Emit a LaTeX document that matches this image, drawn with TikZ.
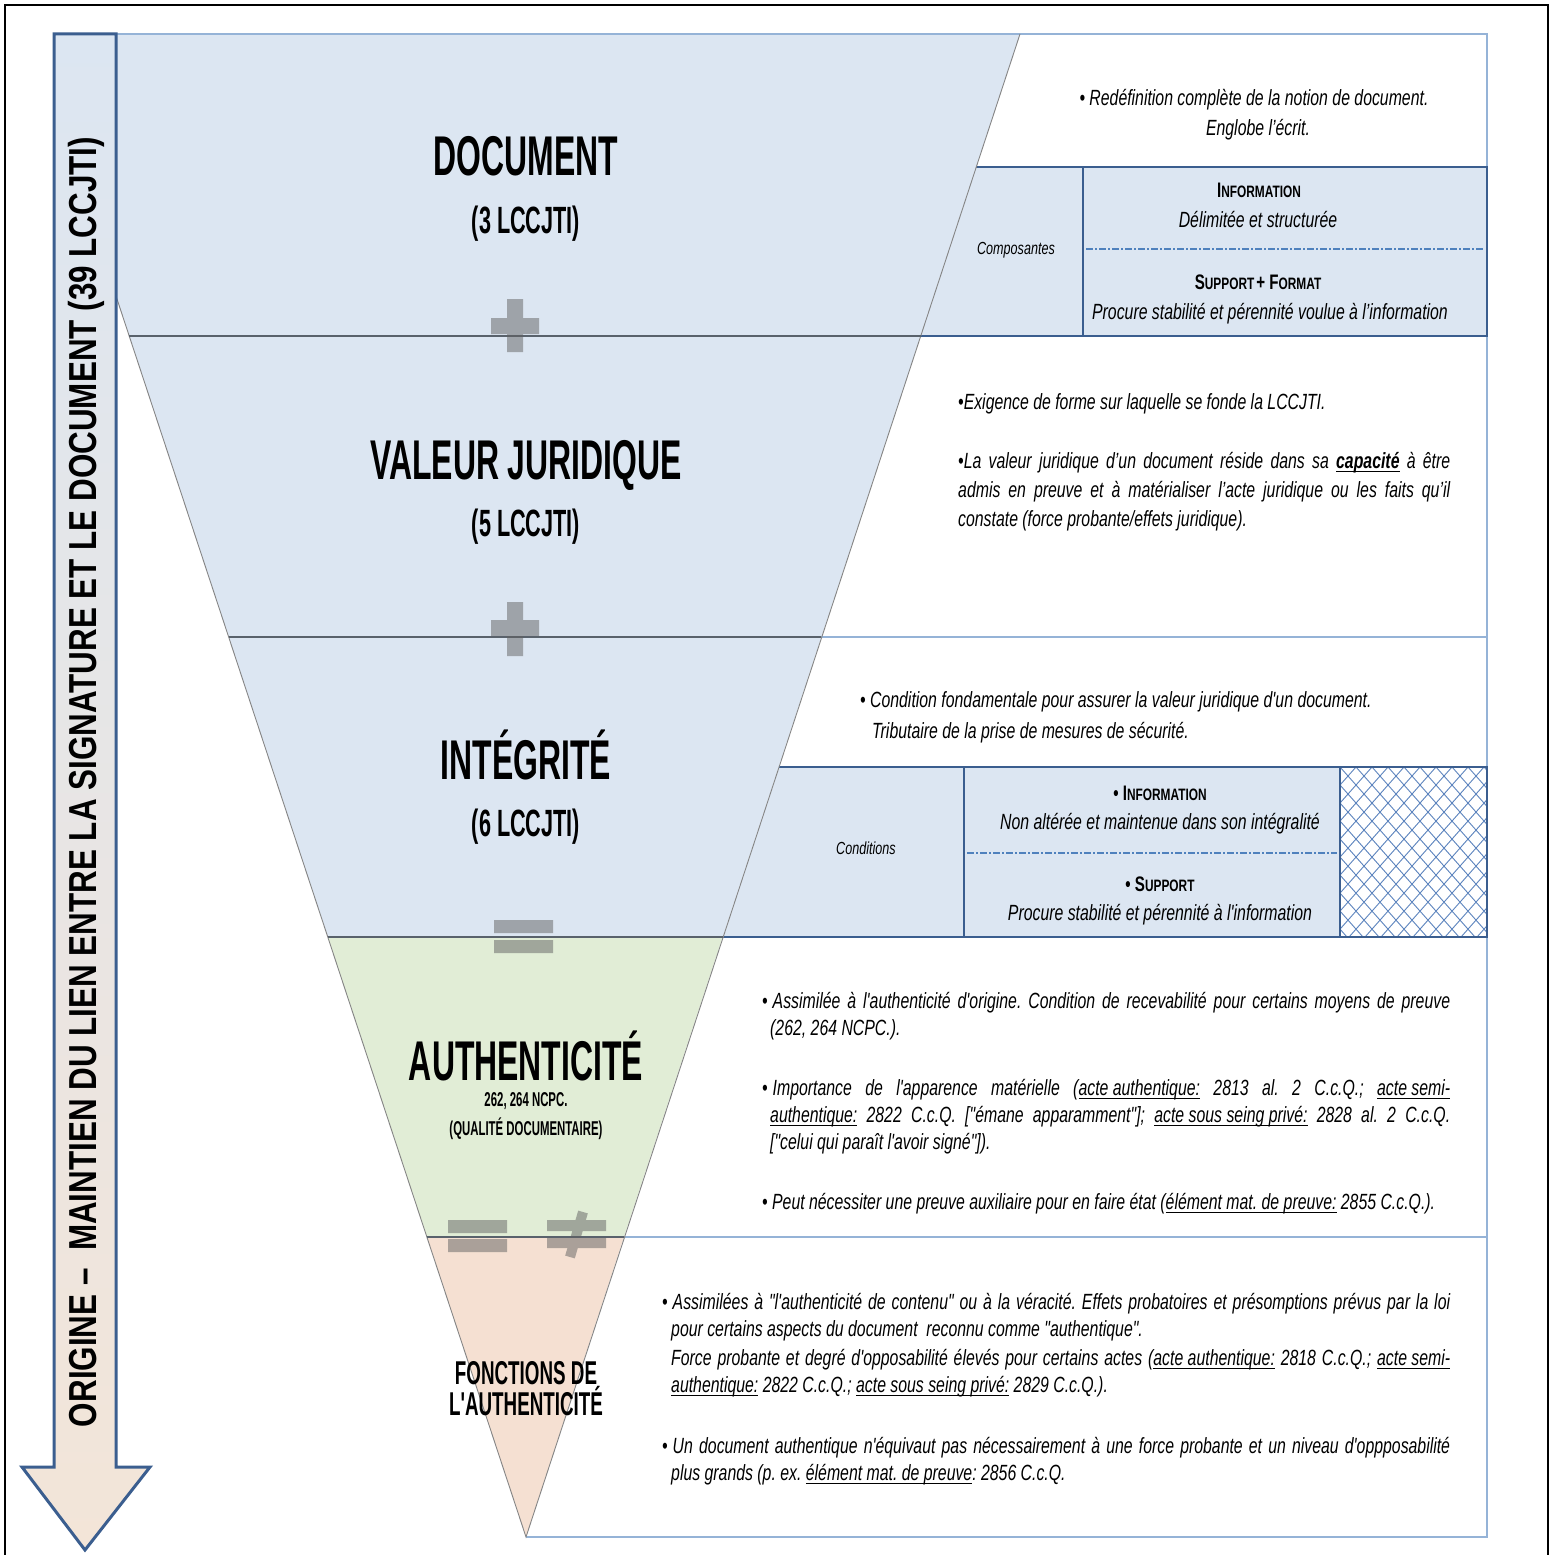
\documentclass[tikz,border=0pt]{standalone}
\usepackage{fontspec}
\setmainfont{Liberation Sans}
\newfontfamily\nb[FakeStretch=0.72]{Liberation Sans}
\newfontfamily\nt[FakeStretch=0.57]{Liberation Sans}
\newfontfamily\na[FakeStretch=0.805]{Liberation Sans}
\definecolor{lblue}{HTML}{DCE6F2}
\definecolor{dblue}{HTML}{3B5E8F}
\definecolor{tblue}{HTML}{95B3D7}
\definecolor{mblue}{HTML}{4F81BD}
\definecolor{hblue}{HTML}{5C84BE}
\definecolor{lgreen}{HTML}{E1EDD6}
\definecolor{lpeach}{HTML}{F5E0D2}
\definecolor{sepgray}{HTML}{59626C}
\definecolor{edgegray}{HTML}{858585}
\definecolor{arrowpeach}{HTML}{F3E5D8}
\newcommand\und[1]{\setbox0\hbox{#1}\leavevmode\rlap{\raisebox{-4.2pt}{\rule{\wd0}{1.5pt}}}\box0\relax}
\newcommand\fsc[2]{{\fontsize{21}{24}\selectfont #1}{\fontsize{16.5}{20}\selectfont #2}}
\newcommand\bul{•\hspace{5pt}}
\begin{document}
\frenchspacing
\begin{tikzpicture}[x=1pt,y=-1pt,
  bodytxt/.style={inner sep=0pt, font=\nb\itshape\fontsize{22}{26}\selectfont},
  smalltxt/.style={inner sep=0pt, font=\nb\itshape\fontsize{17.5}{20}\selectfont},
  sctxt/.style={inner sep=0pt, font=\nb\bfseries},
  bigtitle/.style={inner sep=0pt, anchor=base, font=\nt\bfseries\fontsize{56}{60}\selectfont},
  subtitle/.style={inner sep=0pt, anchor=base, font=\nt\bfseries\fontsize{38}{40}\selectfont},
  tinytitle/.style={inner sep=0pt, anchor=base, font=\nt\bfseries\fontsize{20}{24}\selectfont},
  thinline/.style={tblue, line width=1.2},
  thickline/.style={dblue, line width=2.8},
  sepline/.style={sepgray, line width=2.4},
  edgeline/.style={edgegray, line width=0.9},
  dashdot/.style={mblue, line width=1.3, dash pattern=on 7pt off 2pt on 2pt off 2pt},
  opsym/.style={fill=black!62}]
\useasboundingbox (0,0) rectangle (1556,1555);
\fill[white] (0,0) rectangle (1556,1555);
% outer frame
\draw[black, line width=1.6] (5,1560) -- (5,5) -- (1548,5) -- (1548,1560);

% funnel bands
\fill[lblue] (116,34) -- (1020,34) -- (920.6,336) -- (129.2,336) -- (116,296) -- cycle;
\fill[lblue] (129.2,336) -- (920.6,336) -- (821.4,637) -- (228.7,637) -- cycle;
\fill[lblue] (228.7,637) -- (821.4,637) -- (722.6,937) -- (327.9,937) -- cycle;
\fill[lgreen] (327.9,937) -- (722.6,937) -- (623.9,1237) -- (427.0,1237) -- cycle;
\fill[lpeach] (427.0,1237) -- (623.9,1237) -- (526,1537) -- cycle;

% side cells
\fill[lblue] (976.2,167) -- (1083,167) -- (1083,336) -- (920.6,336) -- cycle;
\fill[lblue] (1083,167) rectangle (1487,336);
\fill[lblue] (778.6,767) -- (964,767) -- (964,937) -- (722.6,937) -- cycle;
\fill[lblue] (964,767) rectangle (1340,937);

% hatch box
\begin{scope}
\clip (1340,767) rectangle (1487,937);
\foreach \i in {0,16,...,336} {
  \draw[hblue, line width=0.9] (1180+\i,767) -- ++(151,170);
  \draw[hblue, line width=0.9] (1340+\i,767) -- ++(-151,170);
}
\end{scope}

% thin panel lines
\draw[thinline] (116,34) -- (1487,34) -- (1487,1537) -- (526,1537);
\draw[thinline] (821.4,637) -- (1487,637);
\draw[thinline] (623.9,1237) -- (1487,1237);

% thick boxes
\draw[thickline] (976.2,167) -- (1487,167) -- (1487,336) -- (920.6,336);
\draw[thickline] (1083,167) -- (1083,336);
\draw[dashdot] (1086,249) -- (1484,249);
\draw[thickline] (778.6,767) -- (1487,767) -- (1487,937) -- (722.6,937);
\draw[thickline] (964,767) -- (964,937);
\draw[thickline] (1340,767) -- (1340,937);
\draw[dashdot] (967,853) -- (1337,853);

% funnel edges and separators
\draw[edgeline] (116,296) -- (526,1537) -- (1020,34);
\draw[sepline] (129.2,336) -- (920.6,336);
\draw[sepline] (228.7,637) -- (821.4,637);
\draw[sepline] (327.9,937) -- (722.6,937);
\draw[sepline] (427.0,1237) -- (623.9,1237);

% operator symbols
\begin{scope}[transparency group, opacity=0.5]
\fill[opsym] (507,299) rectangle (523,352);
\fill[opsym] (491,318) rectangle (539,334);
\fill[opsym] (507,602) rectangle (523,656);
\fill[opsym] (491,620) rectangle (539,636);
\fill[opsym] (494,920) rectangle (553,933);
\fill[opsym] (494,940) rectangle (553,953);
\fill[opsym] (448,1220) rectangle (507,1233);
\fill[opsym] (448,1239) rectangle (507,1252);
\fill[opsym] (547,1220) rectangle (606,1231);
\fill[opsym] (547,1238) rectangle (606,1248);
\draw[black!62, line width=10] (583,1212) -- (570,1257);
\end{scope}

% left arrow
\path[draw=dblue, line width=3, line join=miter, top color=lblue, bottom color=arrowpeach]
  (54,34) -- (116,34) -- (116,1467) -- (150,1467) -- (85,1550) -- (22,1467) -- (54,1467) -- cycle;
\node[inner sep=0pt, rotate=90, font=\na\bfseries\fontsize{39}{42}\selectfont] (arrowtxt) at (86,782)
  {ORIGINE –~~MAINTIEN DU LIEN ENTRE LA SIGNATURE ET LE DOCUMENT (39 LCCJTI)};

% funnel titles
\node[bigtitle] (t1) at (526,175) {DOCUMENT};
\node[subtitle] (t1b) at (526,233) {(3 LCCJTI)};
\node[bigtitle] (t2) at (526,479) {VALEUR JURIDIQUE};
\node[subtitle] (t2b) at (526,536) {(5 LCCJTI)};
\node[bigtitle] (t3) at (526,779) {INTÉGRITÉ};
\node[subtitle] (t3b) at (526,836) {(6 LCCJTI)};
\node[bigtitle] (t4) at (526,1080) {AUTHENTICITÉ};
\node[tinytitle] (t4b) at (526,1106) {262, 264 NCPC.};
\node[tinytitle] (t4c) at (526,1135) {(QUALITÉ DOCUMENTAIRE)};
\node[inner sep=0pt, anchor=base, font=\nt\bfseries\fontsize{33}{31}\selectfont] (t5) at (526,1384) {FONCTIONS DE};
\node[inner sep=0pt, anchor=base, font=\nt\bfseries\fontsize{33}{31}\selectfont] (t5b) at (526,1415) {L'AUTHENTICITÉ};

% panel 1
\node[bodytxt, anchor=base] (p1a) at (1254,105) {• Redéfinition complète de la notion de document.};
\node[bodytxt, anchor=base] (p1b) at (1258,135) {Englobe l’écrit.};
\node[smalltxt] (p1c) at (1016,250) {Composantes};
\node[sctxt, anchor=base] (p1d) at (1259,197) {\fsc{I}{NFORMATION}};
\node[bodytxt, anchor=base] (p1e) at (1258,227) {Délimitée et structurée};
\node[sctxt, anchor=base] (p1f) at (1258,289) {\fsc{S}{UPPORT} \fsc{+ F}{ORMAT}};
\node[bodytxt, anchor=base] (p1g) at (1270,319) {Procure stabilité et pérennité voulue à l’information};

% panel 2
\node[bodytxt, anchor=base west] (p2a) at (958,409) {•Exigence de forme sur laquelle se fonde la LCCJTI.};
\node[bodytxt, anchor=base west] (p2b) at (958,468) {\makebox[492pt][s]{•La valeur juridique d’un document réside dans sa \und{\textbf{capacité}} à être}};
\node[bodytxt, anchor=base west] (p2c) at (958,497) {\makebox[492pt][s]{admis en preuve et à matérialiser l’acte juridique ou les faits qu’il}};
\node[bodytxt, anchor=base west] (p2d) at (958,526) {constate (force probante/effets juridique).};

% panel 3
\node[bodytxt, anchor=base west] (p3a) at (860,707) {• Condition fondamentale pour assurer la valeur juridique d'un document.};
\node[bodytxt, anchor=base west] (p3b) at (872,738) {Tributaire de la prise de mesures de sécurité.};
\node[smalltxt] (p3c) at (866,848) {Conditions};
\node[sctxt, anchor=base] (p3d) at (1160,800) {\fsc{• I}{NFORMATION}};
\node[bodytxt, anchor=base] (p3e) at (1160,829) {Non altérée et maintenue dans son intégralité};
\node[sctxt, anchor=base] (p3f) at (1160,891) {\fsc{• S}{UPPORT}};
\node[bodytxt, anchor=base] (p3g) at (1160,920) {Procure stabilité et pérennité à l'information};

% panel 4
\node[bodytxt, anchor=base west] (p4a) at (762,1008) {\makebox[688pt][s]{\bul Assimilée à l'authenticité d'origine. Condition de recevabilité pour certains moyens de preuve}};
\node[bodytxt, anchor=base west] (p4b) at (770,1035) {(262, 264 NCPC.).};
\node[bodytxt, anchor=base west] (p4c) at (762,1095) {\makebox[688pt][s]{\bul Importance de l'apparence matérielle (\und{acte authentique:} 2813 al. 2 C.c.Q.; \und{acte semi-}}};
\node[bodytxt, anchor=base west] (p4d) at (770,1122) {\makebox[680pt][s]{\und{authentique:} 2822 C.c.Q. ["émane apparamment"]; \und{acte sous seing privé:} 2828 al. 2 C.c.Q.}};
\node[bodytxt, anchor=base west] (p4e) at (770,1149) {["celui qui paraît l'avoir signé"]).};
\node[bodytxt, anchor=base west] (p4f) at (762,1209) {• Peut nécessiter une preuve auxiliaire pour en faire état (\und{élément mat. de preuve:} 2855 C.c.Q.).};

% panel 5
\node[bodytxt, anchor=base west] (p5a) at (662,1309) {\makebox[788pt][s]{\bul Assimilées à "l'authenticité de contenu" ou à la véracité. Effets probatoires et présomptions prévus par la loi}};
\node[bodytxt, anchor=base west] (p5b) at (671,1336) {pour certains aspects du document~ reconnu comme "authentique".};
\node[bodytxt, anchor=base west] (p5c) at (671,1365) {\makebox[779pt][s]{Force probante et degré d'opposabilité élevés pour certains actes (\und{acte authentique:} 2818 C.c.Q.; \und{acte semi-}}};
\node[bodytxt, anchor=base west] (p5d) at (671,1392) {\und{authentique:} 2822 C.c.Q.; \und{acte sous seing privé:} 2829 C.c.Q.).};
\node[bodytxt, anchor=base west] (p5e) at (662,1453) {\makebox[788pt][s]{\bul Un document authentique n'équivaut pas nécessairement à une force probante et un niveau d'oppposabilité}};
\node[bodytxt, anchor=base west] (p5f) at (671,1480) {plus grands (p. ex. \und{élément mat. de preuve}: 2856 C.c.Q.};
\end{tikzpicture}
\end{document}
